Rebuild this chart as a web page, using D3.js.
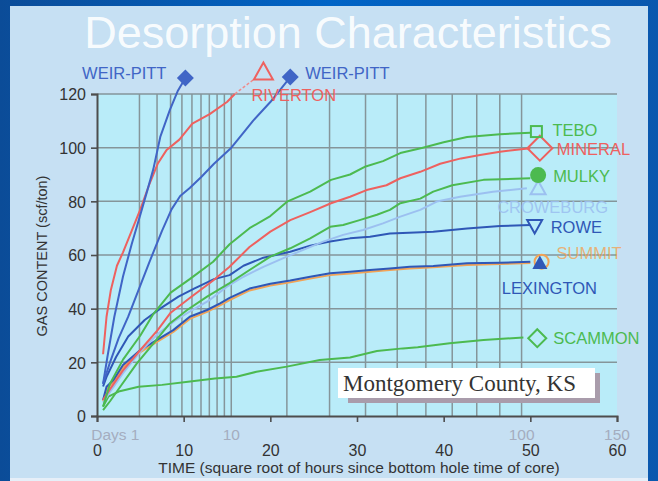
<!DOCTYPE html>
<html>
<head>
<meta charset="utf-8">
<script src="https://cdn.jsdelivr.net/npm/d3@7"></script>
<style>
  html, body { margin: 0; padding: 0; background: #0b57aa; }
  svg { display: block; }
</style>
</head>
<body>
<svg id="chart" width="658" height="481"></svg>
<script>
// ---- data: [sqrt(hours), gas content scf/ton] ----
const weirPittA = [[0.7,12],[1.2,22],[2,37],[3,52],[4,64],[5,75],[5.8,84],[6.5,92],[7.3,104],[8.4,114],[9.3,121],[10.2,126]];
const weirPittB = [[0.7,12],[1.5,20],[2.5,29],[3.6,37],[4.8,47],[6,57],[7.5,69],[8.6,77],[9.6,82],[10.7,85],[12,89],[13.5,94],[15.5,100],[17,106],[18,110],[20,117],[22.3,126.3]];
const riverton = [[0.7,23],[1.1,37],[1.6,47],[2.3,56],[3,61],[4,69],[5,77],[6,86],[7,94],[8,99],[9.5,103],[11,109],[13,112.5],[15,117],[15.9,120]];
const tebo = [[0.7,3.5],[1.5,12],[3,21],[5,30],[6.5,38],[8.5,46],[10.7,51],[13.4,57.5],[15.3,64],[17.6,70],[20,74.5],[22,80],[24.6,83.6],[27,88],[29.2,90],[31,93],[33,95],[35,98],[37.6,100],[40,102],[42.7,104],[46.5,105],[50,105.6]];
const mineral = [[0.7,6],[1.5,10],[3,17],[5,24.6],[7,32],[8.5,38.5],[10.7,44],[13.4,50.5],[15.3,55.6],[17.6,63],[20,68.7],[22.3,73],[24.6,76],[27,79.3],[29.2,81.7],[31.1,84.2],[33.4,86],[35,88.6],[37.3,91],[39.6,94],[42,96],[44.2,97.3],[46.5,98.5],[50,99.8]];
const mulky = [[0.7,2.2],[1.5,5.5],[2.7,11],[4.6,19.6],[6.5,27],[8.4,34.5],[10.4,39.5],[12.7,44.5],[15.3,49.5],[17.6,54.4],[20,59.4],[22.3,62.5],[24.6,66.2],[26.9,70.5],[28.4,71.2],[30.3,73],[32.3,75],[33.8,76.8],[35,79.3],[37.3,81],[38.8,83.6],[41,86],[44.6,88],[50,88.6]];
const croweburg = [[0.7,5],[1.5,9],[3,16],[5,24],[7,30.5],[9,35.5],[11,39.5],[13,43.2],[15,48.2],[16.9,51.9],[19.2,55.6],[21.9,59.4],[23.8,61.9],[26.1,65],[28.4,67.5],[30.7,69.3],[33,71.8],[35,74.3],[37.3,76.8],[39.2,79.9],[41.9,81.7],[45.7,83.6],[49.6,84.9]];
const rowe = [[0.7,11],[1.1,14.6],[2.2,22],[3.6,29.6],[5.5,35.8],[7.5,40.5],[9.4,44.5],[11.2,47.5],[13.5,51],[15.3,52.5],[16.9,56],[19.2,59],[22.3,61.2],[24.6,63.5],[26.9,65],[29.2,66.2],[31.5,66.8],[33.8,68],[36,68.3],[38.8,68.7],[42.7,69.9],[46.5,70.8],[50,71.2]];
const summit = [[0.7,5.5],[1.1,10],[1.9,12.8],[3,18.2],[5,23.8],[6.5,26.8],[8.8,31.3],[10.7,36.2],[12.7,38.8],[14.2,41.2],[15.3,43.2],[17.6,46.8],[20,48.6],[22.3,49.8],[24.6,51.2],[26.9,52.5],[29.2,53.1],[31.5,53.8],[33.8,54.4],[36.1,55],[38.8,55.4],[42.7,56.3],[46.5,56.6],[50,57]];
const lexington = [[0.7,6],[1.1,10.9],[1.9,13.4],[3,19],[5,24.6],[6.5,27.5],[8.8,32],[10.7,37],[12.7,39.5],[14.2,42],[15.3,44],[17.6,47.5],[20,49.3],[22.3,50.5],[24.6,51.9],[26.9,53.2],[29.2,53.8],[31.5,54.4],[33.8,55],[36.1,55.6],[38.8,55.9],[42.7,56.9],[46.5,57.1],[50,57.5]];
const scammon = [[0.7,3.5],[1.3,7.2],[2.5,9.1],[4.8,10.9],[7.5,11.6],[10.5,12.8],[13.6,14],[16.1,14.6],[18.4,16.5],[21.9,18.4],[25.7,20.9],[29.2,21.8],[32.3,24.2],[35.3,25.2],[37,25.6],[40.7,27.1],[44.6,28.3],[49.2,29.3]];

// series names and their end-marker values
const seriesNames = ["SCAMMON","SUMMIT","LEXINGTON","ROWE","CROWEBURG","MULKY","MINERAL","TEBO","RIVERTON","WEIR-PITT","WEIR-PITT"];
const seriesData  = [scammon, summit, lexington, rowe, croweburg, mulky, mineral, tebo, riverton, weirPittB, weirPittA];
const markerPoints = [[50.8,29],[51.3,57.5],[51.1,57],[50.5,70.8],[50.9,84.9],[50.9,89.8],[51.1,99.8],[50.7,106],[19.2,128.2],[22.3,126.3],[10.2,126]];

// axis tick values
const xTicks = [0,10,20,30,40,50,60];
const yTicks = [0,20,40,60,80,100,120];
const dayGrid = [1,2,3,4,5,6,7,8,9,10,20,30,40,50,60,70,80,90,100];
const dayLabels = [1,10,100,150];

// ---- styles ----
const C = {
  blue: "#4065c6", blueDark: "#2f57b6", red: "#ee615f", green: "#4cba50",
  light: "#9cc0f0", orange: "#f2a356"
};
const styles = {
  "SCAMMON":   {color: C.green,    marker: "diamondOpen", size: 18, dx: 16, dy: 6},
  "SUMMIT":    {color: C.orange,   marker: "circleOpen",  size: 14, dx: 15, dy: -3, labelOpacity: 0.8},
  "LEXINGTON": {color: C.blueDark, marker: "triFill",     size: 15, dx: -38, dy: 31},
  "ROWE":      {color: C.blueDark, marker: "triDownOpen", size: 15, dx: 16, dy: 7},
  "CROWEBURG": {color: C.light,    marker: "triOpen",     size: 15, dx: -41, dy: 25, labelOpacity: 0.9},
  "MULKY":     {color: C.green,    marker: "circleFill",  size: 16, dx: 15, dy: 7},
  "MINERAL":   {color: C.red,      marker: "diamondOpen", size: 25, dx: 17, dy: 7},
  "TEBO":      {color: C.green,    marker: "squareOpen",  size: 11, dx: 16, dy: 4},
  "RIVERTON":  {color: C.red,      marker: "triOpen",     size: 19, dx: -12, dy: 29, dashed: true},
  "WEIR-PITT": {color: C.blue,     marker: "diamondFill", size: 17}
};

const W = 658, H = 481;
const svg = d3.select("#chart");

// frame and panel
const defs = svg.append("defs");
const grad = defs.append("linearGradient").attr("id","frame").attr("x1",0).attr("y1",0).attr("x2",1).attr("y2",0);
grad.append("stop").attr("offset","0%").attr("stop-color","#0b4c98");
grad.append("stop").attr("offset","50%").attr("stop-color","#0064c6");
grad.append("stop").attr("offset","100%").attr("stop-color","#0a58ae");
svg.append("rect").attr("width",W).attr("height",H).attr("fill","url(#frame)");
svg.append("rect").attr("x",10).attr("y",6).attr("width",638).attr("height",475).attr("fill","#c6e0f3");
svg.append("rect").attr("x",10).attr("y",478).attr("width",638).attr("height",3).attr("fill","#e6eff8");

// title
svg.append("text").attr("x",348).attr("y",48).attr("text-anchor","middle")
  .attr("font-family","Liberation Sans, Arial, sans-serif").attr("font-size",45)
  .attr("fill","#ffffff").attr("fill-opacity",0.9).text("Desorption Characteristics");

// scales
const x = d3.scaleLinear().domain([0,60]).range([97,617]);
const y = d3.scaleLinear().domain([0,120]).range([416,94]);
const sqrtHours = d => Math.sqrt(d*24);

// plot background
svg.append("rect").attr("x",x(0)).attr("y",y(120)).attr("width",x(60)-x(0)).attr("height",y(0)-y(120)).attr("fill","#b9ecf9");

// grid
const grid = svg.append("g").attr("stroke","#85959a").attr("stroke-width",1.5);
grid.selectAll("line.h").data(yTicks.filter(v => v > 0)).join("line")
  .attr("x1",x(0)).attr("x2",x(60)).attr("y1",d=>y(d)).attr("y2",d=>y(d));
grid.selectAll("line.v").data(dayGrid).join("line")
  .attr("x1",d=>x(sqrtHours(d))).attr("x2",d=>x(sqrtHours(d))).attr("y1",y(0)).attr("y2",y(120));

// axes
const xAxis = svg.append("g").attr("transform",`translate(0,${y(0)})`)
  .call(d3.axisBottom(x).tickValues(xTicks).tickSize(6).tickPadding(23).tickFormat(d3.format("d")));
const yAxis = svg.append("g").attr("transform",`translate(${x(0)},0)`)
  .call(d3.axisLeft(y).tickValues(yTicks).tickSize(6).tickPadding(5).tickFormat(d3.format("d")));
[xAxis, yAxis].forEach(g => {
  g.select(".domain").attr("stroke","#4d4d4d").attr("stroke-width",2);
  g.selectAll(".tick line").attr("stroke","#4d4d4d").attr("stroke-width",1.6);
  g.selectAll(".tick text").attr("font-family","Liberation Sans, Arial, sans-serif").attr("font-size",16).attr("fill","#333");
});
yAxis.selectAll(".tick text").attr("dy","0.36em");

// day labels
svg.append("g").selectAll("text").data(dayLabels).join("text")
  .attr("x",d=>x(sqrtHours(d))).attr("y",440)
  .attr("text-anchor",d=> d===1 ? "end" : "middle")
  .attr("font-family","Liberation Sans, Arial, sans-serif").attr("font-size",15.5).attr("fill","#a4adbf")
  .text(d=> d===1 ? "Days 1" : d);

// axis titles
svg.append("text").attr("x",359).attr("y",473).attr("text-anchor","middle")
  .attr("font-family","Liberation Sans, Arial, sans-serif").attr("font-size",15.5).attr("fill","#333")
  .text("TIME (square root of hours since bottom hole time of core)");
svg.append("text").attr("transform","translate(47,256) rotate(-90)").attr("text-anchor","middle")
  .attr("font-family","Liberation Sans, Arial, sans-serif").attr("font-size",14.5).attr("fill","#333")
  .text("GAS CONTENT (scf/ton)");

// annotation box
const ann = svg.append("g");
ann.append("rect").attr("x",348).attr("y",373).attr("width",252).attr("height",30).attr("fill","#a99cab");
ann.append("rect").attr("x",338).attr("y",368).attr("width",257).attr("height",30).attr("fill","#ffffff");
ann.append("text").attr("x",343).attr("y",391).attr("font-family","Liberation Serif, Times New Roman, serif")
  .attr("font-size",23).attr("fill","#333").text("Montgomery County, KS");

// lines
const line = d3.line().x(d=>x(d[0])).y(d=>y(d[1]));
seriesData.forEach((data,i) => {
  const st = styles[seriesNames[i]];
  svg.append("path").datum(data).attr("d",line).attr("fill","none")
    .attr("stroke",st.color).attr("stroke-width",2).attr("stroke-linejoin","round");
  if (st.dashed) {
    const last = data[data.length-1], m = markerPoints[i];
    const x0 = x(last[0]), y0 = y(last[1]), x1 = x(m[0]), y1 = y(m[1]);
    const len = Math.hypot(x1-x0, y1-y0), k = (len-12)/len;
    svg.append("line").attr("x1",x0).attr("y1",y0).attr("x2",x0+(x1-x0)*k).attr("y2",y0+(y1-y0)*k)
      .attr("stroke","#f08a8a").attr("stroke-width",1.5).attr("stroke-dasharray","3,2");
  }
});

// markers
function drawMarker(g, type, cx, cy, s, color) {
  const h = s/2;
  let el;
  switch (type) {
    case "diamondFill": case "diamondOpen":
      el = g.append("path").attr("d",`M${cx},${cy-h}L${cx+h},${cy}L${cx},${cy+h}L${cx-h},${cy}Z`); break;
    case "triOpen": case "triFill":
      el = g.append("path").attr("d",`M${cx},${cy-h}L${cx+h},${cy+h*0.8}L${cx-h},${cy+h*0.8}Z`); break;
    case "triDownOpen":
      el = g.append("path").attr("d",`M${cx-h},${cy-h*0.8}L${cx+h},${cy-h*0.8}L${cx},${cy+h}Z`); break;
    case "squareOpen":
      el = g.append("rect").attr("x",cx-h).attr("y",cy-h).attr("width",s).attr("height",s); break;
    default:
      el = g.append("circle").attr("cx",cx).attr("cy",cy).attr("r",h);
  }
  if (type.endsWith("Fill")) el.attr("fill",color).attr("stroke","none");
  else el.attr("fill","none").attr("stroke",color).attr("stroke-width",2);
}
const labelOffsets = {"WEIR-PITT": [[-19,1,"end"],[15,2,"start"]]};
seriesData.forEach((data,i) => {
  const name = seriesNames[i], st = styles[name], m = markerPoints[i];
  const cx = x(m[0]), cy = y(m[1]);
  drawMarker(svg, st.marker, cx, cy, st.size, st.color);
  let dx = st.dx, dy = st.dy, anchor = "start";
  if (name === "WEIR-PITT") {
    const o = labelOffsets[name][m[0] > 15 ? 1 : 0];
    dx = o[0]; dy = o[1]; anchor = o[2];
  }
  svg.append("text").attr("x",cx+dx).attr("y",cy+dy).attr("text-anchor",anchor)
    .attr("font-family","Liberation Sans, Arial, sans-serif").attr("font-size",16.5)
    .attr("fill",st.color).attr("fill-opacity",st.labelOpacity || 1).text(name);
});
</script>
</body>
</html>
